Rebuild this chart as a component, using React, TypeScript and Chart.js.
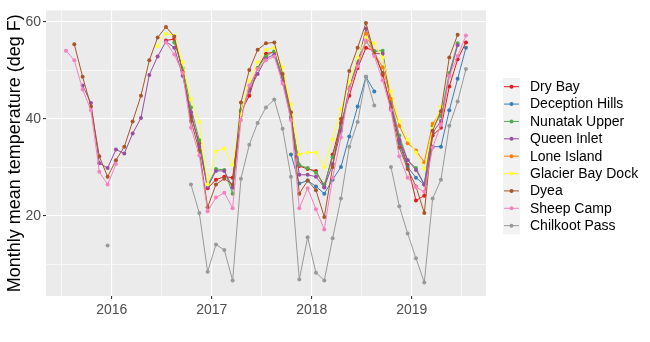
import { useEffect, useRef } from "react";
import { Chart, registerables } from "chart.js";
Chart.register(...registerables);

const months = [
  "2015-07","2015-08","2015-09","2015-10","2015-11","2015-12",
  "2016-01","2016-02","2016-03","2016-04","2016-05","2016-06","2016-07","2016-08","2016-09","2016-10","2016-11","2016-12",
  "2017-01","2017-02","2017-03","2017-04","2017-05","2017-06","2017-07","2017-08","2017-09","2017-10","2017-11","2017-12",
  "2018-01","2018-02","2018-03","2018-04","2018-05","2018-06","2018-07","2018-08","2018-09","2018-10","2018-11","2018-12",
  "2019-01","2019-02","2019-03","2019-04","2019-05","2019-06","2019-07",
];

const _ = null;
const dryBay = [_,_,_,_,_,_, _,_,_,_,_,_,56.2,56.5,50,40.6,35,25.7, 27.5,28.1,27.9,41.5,44.8,50.5,53.5,53.8,48.5,40.5,30.3,29.7, 29.3,26,32.7,39.2,44.8,50.5,54.7,54,49.1,42.5,35.5,30.5, 23.2,24.2,36.6,38.2,46.7,52.3,55.8];
const deceptionHills = [_,_,_,_,_,_, _,_,_,_,_,_,_,_,_,_,_,_, _,_,_,_,_,_,_,_,_,32.7,26.7,27.3, 26.1,24.6,27.5,30.1,36.4,42.6,48.7,45.7,_,_,35,30.1, 27.9,26.5,34.3,34.3,41.8,48.3,54.7];
const nunatakUpper = [_,_,_,_,_,_, _,_,_,_,_,_,_,55.8,50.5,42.4,35.6,26.3, 29.7,29.5,24.6,41.8,46.3,50.5,52.9,54,48.5,40.5,30.5,29.9, 28.9,26.5,32.1,38.2,46.5,51.9,56,54,54.1,43.5,36.6,31.5, 29.9,26.5,38.6,40.6,49.5,55.6,_];
const queenInlet = [_,_,46.9,43.3,30.9,29.9, 33.7,32.9,37,40.2,49.1,52.9,56,54.7,48.9,41.4,34.3,26, 29.3,29.3,25.9,40.8,45.9,49.3,52.5,53.3,47.9,40,28.5,28.5, 28.1,25.9,30.7,37.6,46.3,51.5,58.6,53.5,53.5,43,35.8,31.5, 29.5,26.5,37.2,39.6,48.9,55.2,_];
const loneIsland = [_,_,_,_,_,_, _,_,_,_,_,_,_,_,_,_,_,_, _,_,_,_,_,_,_,_,_,_,_,_, _,_,_,_,_,_,57.6,53.5,50.7,44.2,38.6,35, 33.5,31.1,39,41.6,_,_,_];
const glacierBayDock = [_,_,_,_,_,_, _,_,_,_,_,55,57.6,57.2,51.7,44,39.4,26.5, 33.3,33.9,30.5,41,47.9,51.7,54.3,54.7,50.7,43,32.7,33.1, 33.1,30.1,35.8,42,47.7,52.7,56.8,55.6,52.7,45.7,39.6,35.8, 33.1,29.7,38,42.6,_,_,_];
const dyea = [_,55.4,48.7,42.6,32.3,28.1, 31.5,34.3,39.5,44.8,52.1,56.8,59,57,49.7,39.6,33.5,21.8, 26.5,27.7,26.5,43.4,50.1,54.3,55.6,55.8,49.3,41.4,24.6,27.3, 25.3,19.8,30.1,40,49.9,54.7,59.8,53.5,49.5,42,34.1,29.7, 26.1,20.6,37.6,41.6,52.7,57.4,_];
const sheepCamp = [54.1,52.1,46.1,41.8,29.1,26.5, 30.7,_,_,_,_,_,55.8,53.3,49.5,38.2,32.5,21, 23.8,24.8,21.6,39.8,46.9,50.3,52.1,52.9,47.3,39.8,21.6,25.7, 21.4,17.2,27.9,36.2,46.3,50.9,56.2,53,48,41.8,32.3,27.9, 26,25,34.1,38.8,48.9,53,57.2];
const chilkootPass = [_,_,_,_,_,13.9, _,_,_,_,_,_,_,_,_,26.5,20.6,8.5, 14.1,13,6.7,27.7,34.7,39.2,42.4,44,38,28.1,6.9,15.6, 8.3,6.7,15.4,23.6,34.3,39.4,48.7,42.8,_,30.1,22,16.4, 11.3,6.3,23.6,27.5,38.6,43.6,50.3];

const seriesNames = ["Dry Bay","Deception Hills","Nunatak Upper","Queen Inlet","Lone Island","Glacier Bay Dock","Dyea","Sheep Camp","Chilkoot Pass"];
const seriesValues = [dryBay, deceptionHills, nunatakUpper, queenInlet, loneIsland, glacierBayDock, dyea, sheepCamp, chilkootPass];
const seriesColors = ["#E41A1C","#377EB8","#4DAF4A","#984EA3","#FF7F00","#FFFF33","#A65628","#F781BF","#999999"];

const xTicks = [2015.5, 2016, 2016.5, 2017, 2017.5, 2018, 2018.5, 2019, 2019.5];
const yTicks = [10, 20, 30, 40, 50, 60];
const yTitle = "Monthly mean temperature (deg F)";
const FONT = "'Liberation Sans', Arial, sans-serif";

function monthToX(m: string) {
  const [y, mo] = m.split("-").map(Number);
  return y + (mo - 0.5) / 12;
}

export default function App() {
  const ref = useRef<HTMLCanvasElement | null>(null);
  useEffect(() => {
    if (!ref.current) return;
    const xs = months.map(monthToX);
    const datasets = seriesNames.map((name, i) => ({
      label: name,
      data: seriesValues[i].map((v, k) => ({ x: xs[k], y: v })),
      borderColor: seriesColors[i],
      backgroundColor: seriesColors[i],
      borderWidth: 1,
      pointRadius: 2,
      pointBorderWidth: 0,
      pointHoverRadius: 2,
      spanGaps: false,
      order: seriesNames.length - 1 - i,
      tension: 0,
    }));

    const bgPlugin = {
      id: "panelBg",
      beforeDraw(chart: any) {
        const { ctx, chartArea } = chart;
        ctx.save();
        ctx.fillStyle = "#ebebeb";
        ctx.fillRect(chartArea.left, chartArea.top, chartArea.right - chartArea.left, chartArea.bottom - chartArea.top);
        ctx.restore();
      },
      afterDraw(chart: any) {
        const { ctx, chartArea } = chart;
        ctx.save();
        // y title
        ctx.translate(15, (chartArea.top + chartArea.bottom) / 2);
        ctx.rotate(-Math.PI / 2);
        ctx.fillStyle = "#000000";
        ctx.font = `18px ${FONT}`;
        ctx.textAlign = "center";
        ctx.textBaseline = "middle";
        ctx.fillText(yTitle, 0, 0);
        ctx.restore();
        // legend
        ctx.save();
        const y0 = 86.7, dy = 17.37;
        ctx.fillStyle = "#f2f2f2";
        ctx.fillRect(503, y0 - 8.7, 17, dy * seriesNames.length);
        seriesNames.forEach((name, i) => {
          const y = y0 + i * dy;
          ctx.strokeStyle = seriesColors[i];
          ctx.lineWidth = 1;
          ctx.beginPath();
          ctx.moveTo(504, y);
          ctx.lineTo(519, y);
          ctx.stroke();
          ctx.fillStyle = seriesColors[i];
          ctx.beginPath();
          ctx.arc(511.5, y, 2, 0, Math.PI * 2);
          ctx.fill();
          ctx.fillStyle = "#000000";
          ctx.font = `14px ${FONT}`;
          ctx.textAlign = "left";
          ctx.textBaseline = "middle";
          ctx.fillText(name, 530, y + 0.5);
        });
        ctx.restore();
      },
    };

    const chart = new Chart(ref.current, {
      type: "line",
      data: { datasets } as any,
      options: {
        animation: false,
        responsive: false,
        devicePixelRatio: 1,
        layout: { padding: { left: 0, right: 164, top: 5, bottom: 0 } },
        plugins: { legend: { display: false }, tooltip: { enabled: false } },
        scales: {
          x: {
            type: "linear",
            min: 2015.342,
            max: 2019.742,
            afterBuildTicks: (s: any) => { s.ticks = xTicks.map((v) => ({ value: v })); },
            afterFit: (s: any) => { s.height = 46; },
            border: { display: false },
            grid: {
              color: "#ffffff",
              lineWidth: (c: any) => (c.tick && Number.isInteger(c.tick.value) ? 1.1 : 0.55),
              tickColor: (c: any) => (c.tick && Number.isInteger(c.tick.value) ? "#333333" : "rgba(0,0,0,0)"),
              tickLength: 3,
              tickWidth: 1.1,
            },
            ticks: {
              autoSkip: false,
              maxRotation: 0,
              padding: 3,
              color: "#4d4d4d",
              font: { family: FONT, size: 14 },
              callback: (v: any) => (Number.isInteger(v) ? String(v) : ""),
            },
          },
          y: {
            type: "linear",
            min: 3.5,
            max: 62.4,
            afterBuildTicks: (s: any) => { s.ticks = yTicks.map((v) => ({ value: v })); },
            afterFit: (s: any) => { s.width = 46; },
            border: { display: false },
            grid: {
              color: "#ffffff",
              lineWidth: (c: any) => (c.tick && c.tick.value % 20 === 0 ? 1.1 : 0.55),
              tickColor: (c: any) => (c.tick && c.tick.value % 20 === 0 ? "#333333" : "rgba(0,0,0,0)"),
              tickLength: 3,
              tickWidth: 1.1,
            },
            ticks: {
              autoSkip: false,
              padding: 2,
              color: "#4d4d4d",
              font: { family: FONT, size: 14 },
              callback: (v: any) => (v % 20 === 0 ? String(v) : ""),
            },
          },
        },
      },
      plugins: [bgPlugin],
    } as any);
    return () => chart.destroy();
  }, []);
  return (
    <div style={{ position: "fixed", left: 0, top: 0, width: 650, height: 342, background: "#ffffff" }}>
      <canvas ref={ref} width={650} height={342} style={{ display: "block" }} />
    </div>
  );
}
